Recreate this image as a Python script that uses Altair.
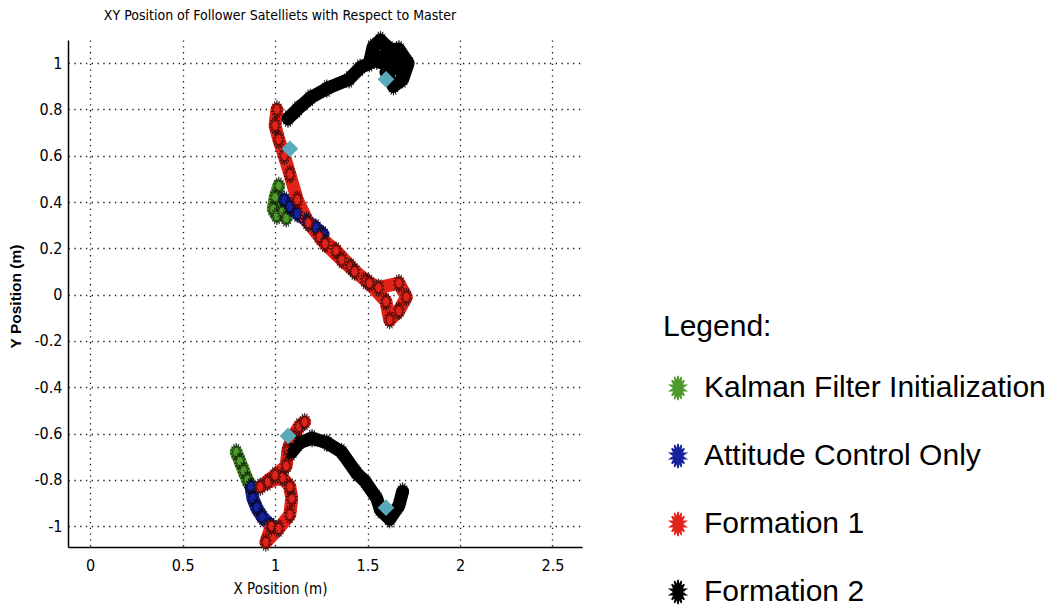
import math
import altair as alt
import pandas as pd

# ---------------- data ----------------
phases = ["Kalman Filter Initialization", "Attitude Control Only", "Formation 1", "Formation 2"]
phase_colors = ["#4f9a2e", "#16239f", "#e2231a", "#000000"]

# upper follower
up_kf_x = [1.02, 1.00, 0.99, 1.01, 1.04, 1.06]
up_kf_y = [0.47, 0.42, 0.37, 0.34, 0.36, 0.33]
up_ac_x = [1.05, 1.08, 1.12, 1.17, 1.22, 1.26]
up_ac_y = [0.41, 0.38, 0.35, 0.32, 0.29, 0.26]
up_f1_x = [1.24, 1.33, 1.41, 1.49, 1.56, 1.67, 1.71, 1.67, 1.62, 1.60, 1.51, 1.43, 1.36, 1.27, 1.18, 1.12, 1.08, 1.05, 1.02, 1.00, 1.01]
up_f1_y = [0.25, 0.19, 0.12, 0.06, 0.03, 0.05, -0.01, -0.07, -0.11, -0.03, 0.05, 0.10, 0.15, 0.22, 0.31, 0.41, 0.52, 0.60, 0.67, 0.73, 0.80]
up_f2_x = [1.07, 1.12, 1.19, 1.28, 1.40, 1.46, 1.51, 1.53, 1.57, 1.62, 1.67, 1.72, 1.69, 1.64, 1.60, 1.66, 1.58, 1.62, 1.68, 1.55]
up_f2_y = [0.76, 0.80, 0.85, 0.89, 0.93, 0.98, 1.00, 1.07, 1.10, 1.06, 1.06, 1.00, 0.93, 0.90, 0.96, 1.01, 1.03, 0.99, 0.97, 1.01]

# lower follower
lo_kf_x = [0.79, 0.81, 0.83, 0.85, 0.87]
lo_kf_y = [-0.68, -0.72, -0.76, -0.80, -0.83]
lo_ac_x = [0.87, 0.88, 0.90, 0.93, 0.98]
lo_ac_y = [-0.83, -0.88, -0.92, -0.96, -1.00]
lo_f1_x = [0.98, 0.95, 1.02, 1.08, 1.09, 1.08, 1.04, 0.96, 0.92, 1.00, 1.06, 1.07, 1.09, 1.13, 1.16]
lo_f1_y = [-1.00, -1.07, -1.01, -0.95, -0.88, -0.83, -0.79, -0.81, -0.83, -0.78, -0.74, -0.67, -0.62, -0.57, -0.55]
lo_f2_x = [1.09, 1.13, 1.20, 1.28, 1.36, 1.44, 1.49, 1.55, 1.57, 1.62, 1.67, 1.69]
lo_f2_y = [-0.68, -0.64, -0.62, -0.64, -0.68, -0.77, -0.81, -0.88, -0.93, -0.97, -0.91, -0.85]

# cyan diamond markers
mark_x = [1.08, 1.60, 1.07, 1.60]
mark_y = [0.63, 0.93, -0.61, -0.92]

x_ticks = [0, 0.5, 1, 1.5, 2, 2.5]
y_ticks = [-1, -0.8, -0.6, -0.4, -0.2, 0, 0.2, 0.4, 0.6, 0.8, 1]

segments = [
    ("upper", phases[0], up_kf_x, up_kf_y),
    ("upper", phases[1], up_ac_x, up_ac_y),
    ("upper", phases[2], up_f1_x, up_f1_y),
    ("upper", phases[3], up_f2_x, up_f2_y),
    ("lower", phases[0], lo_kf_x, lo_kf_y),
    ("lower", phases[1], lo_ac_x, lo_ac_y),
    ("lower", phases[2], lo_f1_x, lo_f1_y),
    ("lower", phases[3], lo_f2_x, lo_f2_y),
]
rows = []
for traj, ph, xs_, ys_ in segments:
    for i, (a, b) in enumerate(zip(xs_, ys_)):
        rows.append({"x": a, "y": b, "phase": ph, "seg": traj + ph, "ord": i,
                     "rank": phases.index(ph)})
df = pd.DataFrame(rows)
mk = pd.DataFrame({"x": mark_x, "y": mark_y})

# ---------------- starburst symbol (style only) ----------------
pts = []
n = 14
for k in range(2 * n):
    ang = math.pi * k / n
    r = 1.0 if k % 2 == 0 else 0.5
    pts.append((0.65 * r * math.sin(ang), -r * math.cos(ang)))
STAR = "M" + "L".join(f"{px:.3f},{py:.3f}" for px, py in pts) + "Z"

NARROW = "Liberation Sans Narrow, DejaVu Sans Condensed, Arial Narrow, sans-serif"

xs = alt.Scale(domain=[-0.12, 2.66], nice=False, zero=False)
ys = alt.Scale(domain=[-1.09, 1.10], nice=False, zero=False)
cs = alt.Scale(domain=phases, range=phase_colors)

X = alt.X("x:Q", scale=xs, title="X Position (m)",
          axis=alt.Axis(values=x_ticks, labelExpr="'' + datum.value", titlePadding=8,
                        labelPadding=10, titleX=212))
Y = alt.Y("y:Q", scale=ys, title="Y Position (m)",
          axis=alt.Axis(values=y_ticks, labelExpr="'' + datum.value", labelPadding=6,
                        titlePadding=10, titleFont="Liberation Sans", titleFontWeight="bold",
                        titleFontSize=15.5, titleY=256))

LEG = alt.Legend(
    orient="none", legendX=595, legendY=272, title="Legend:",
    titleFont="Liberation Sans", titleFontSize=30, titleFontWeight="normal",
    titleColor="black", titlePadding=31,
    labelFont="Liberation Sans", labelFontSize=30, labelColor="black",
    labelOffset=11, symbolType=STAR, symbolSize=600,
    symbolStrokeColor="black", symbolStrokeWidth=1.5,
    symbolOpacity=1, rowPadding=36, padding=0, labelLimit=500)

C = alt.Color("phase:N", scale=cs, sort=phases, legend=LEG)

lines = alt.Chart(df).mark_line(strokeWidth=13, strokeCap="round", strokeJoin="round").encode(
    x=X, y=Y, color=C, detail="seg:N", order="ord:Q",
)

points = alt.Chart(df).mark_point(shape=STAR, filled=True, size=330, opacity=1,
                                  stroke="black", strokeWidth=0.8, strokeOpacity=0.7).encode(
    x=X, y=Y, color=C, order="rank:Q",
)

diamonds = alt.Chart(mk).mark_point(shape="diamond", filled=True, size=280, opacity=1,
                                    color="#5aa9ba").encode(x=X, y=Y)

chart = alt.layer(lines, points, diamonds).properties(
    width=514, height=507,
    background="white",
    padding={"left": 68, "top": 40, "right": 475, "bottom": 67},
    autosize=alt.AutoSizeParams(type="none"),
    title=alt.TitleParams("XY Position of Follower Satelliets with Respect to Master",
                          font=NARROW, fontSize=14, fontWeight="normal", color="black",
                          anchor="middle", dx=-45, offset=6),
).configure_view(stroke=None).configure_axis(
    domainColor="black", domainWidth=1.5, ticks=False,
    grid=True, gridColor="black", gridOpacity=0.9, gridWidth=1.3, gridDash=[1.3, 4.5],
    labelFont=NARROW, labelFontSize=16, labelColor="black",
    titleFont=NARROW, titleFontSize=15, titleFontWeight="normal", titleColor="black",
)

chart.save("out.html", embed_options={"renderer": "svg", "actions": False})
